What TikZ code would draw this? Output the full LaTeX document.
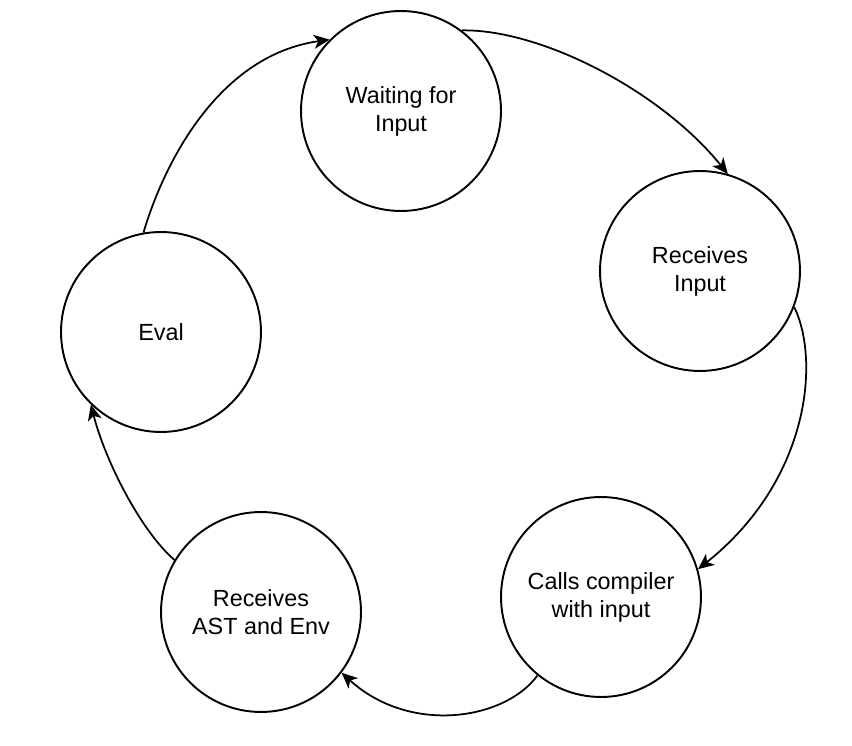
\documentclass[tikz,border=0pt]{standalone}
\usepackage{fontspec}
\setmainfont{Liberation Sans}
\usetikzlibrary{arrows.meta}

\begin{document}
\begin{tikzpicture}[x=0.02cm,y=-0.02cm,font=\fontsize{13.3}{15.9}\selectfont,
  state/.style={draw,circle,line width=1.1pt,minimum size=4cm,inner sep=0pt,align=center},
  link/.style={line width=1pt,-{Stealth[length=9pt,width=8pt,inset=2.5pt]}}]
\useasboundingbox (0,0) rectangle (852,746);
\node [state] (wait) at (401,111) {Waiting for\\Input};
\node [state] (recv) at (700,271) {Receives\\Input};
\node [state] (comp) at (601,597) {Calls compiler\\with input};
\node [state] (ast) at (261,612) {Receives\\AST and Env};
\node [state] (eval) at (161,332) {Eval};
\draw [link] (wait.53) .. controls (540,29) and (660,90) .. (recv.74);
\draw [link] (recv.-21) .. controls (820,360) and (810,480) .. (comp.16);
\draw [link] (comp.-129) .. controls (505,720) and (410,735) .. (ast.-37);
\draw [link] (ast.149) .. controls (140,530) and (105,460) .. (eval.-134);
\draw [link] (eval.100) .. controls (165,160) and (220,55) .. (wait.135);
\end{tikzpicture}
\end{document}
